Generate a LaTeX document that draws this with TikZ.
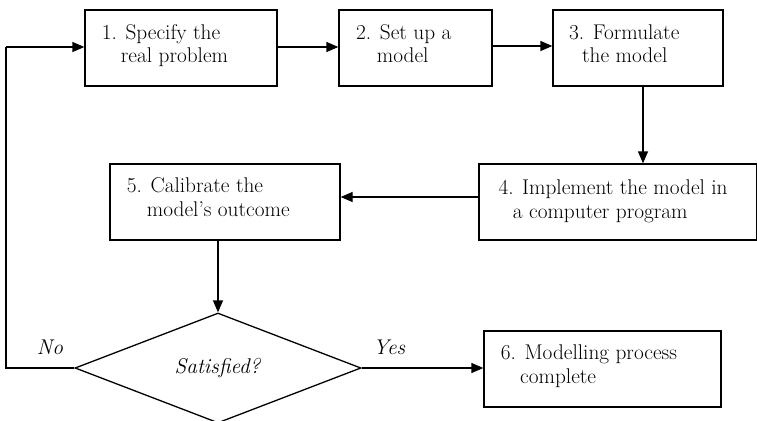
\documentclass[tikz,border=0pt]{standalone}
\usetikzlibrary{arrows.meta,shapes.geometric}
\begin{document}
\begin{tikzpicture}[x=1pt,y=-1pt,
  stepbox/.style={draw,line width=1.3pt,inner sep=0pt},
  txt/.style={anchor=base west,inner sep=0pt,font=\fontsize{21.3}{24}\selectfont},
  lab/.style={anchor=base west,inner sep=0pt,font=\fontsize{21.3}{24}\selectfont\itshape},
  flow/.style={line width=1.3pt,-{Triangle[length=12pt,width=10pt]}},
  edge/.style={line width=1.3pt}]
\useasboundingbox (0,0) rectangle (757,420);

% process boxes
\node[stepbox,minimum width=192pt,minimum height=76pt] (b1) at (181,48) {};
\node[stepbox,minimum width=153pt,minimum height=76pt] (b2) at (415.5,48) {};
\node[stepbox,minimum width=170pt,minimum height=76pt] (b3) at (638,48) {};
\node[stepbox,minimum width=277.5pt,minimum height=76pt] (b4) at (617.75,202) {};
\node[stepbox,minimum width=230pt,minimum height=76pt] (b5) at (225,202) {};
\node[stepbox,minimum width=237pt,minimum height=76pt] (b6) at (602.5,369) {};

% decision
\node[draw,line width=1.3pt,diamond,inner sep=0pt,aspect=2.6,
      minimum width=286pt,minimum height=110pt] (dia) at (218,368) {};

% box texts
\node[txt] (t1a) at (101.7,40) {1. Specify the};
\node[txt] (t1b) at (120.7,63) {real problem};
\node[txt] (t2a) at (356,40) {2. Set up a};
\node[txt] (t2b) at (376.7,63) {model};
\node[txt] (t3a) at (569,40) {3. Formulate};
\node[txt] (t3b) at (582,63) {the model};
\node[txt] (t4a) at (498.3,194) {4. Implement the model in};
\node[txt] (t4b) at (512.7,218) {a computer program};
\node[txt] (t5a) at (126.7,192) {5. Calibrate the};
\node[txt] (t5b) at (146.7,216) {model’s outcome};
\node[txt] (t6a) at (500.7,359) {6. Modelling process};
\node[txt] (t6b) at (520,383) {complete};

% labels
\node[lab,anchor=base] (ts) at (217.5,373) {Satisfied?};
\node[lab] (tno) at (36.7,354) {No};
\node[lab] (tyes) at (373,354) {Yes};

% connectors
\coordinate (loopA) at (6,368);
\coordinate (loopB) at (6,47);
\draw[flow] ([yshift=1pt]b1.east) -- ([yshift=1pt]b2.west);
\draw[flow] ([yshift=2pt]b2.east) -- ([yshift=2pt]b3.west);
\draw[flow] (b3.south -| 643,0) -- (b4.north -| 643,0);
\draw[flow] ([yshift=5pt]b4.west) -- ([yshift=5pt]b5.east);
\draw[flow] (b5.south -| dia.north) -- (dia.north);
\draw[flow] (dia.east) -- (dia.east -| b6.west);
\draw[edge] (dia.west) -- (loopA) -- (loopB);
\draw[flow] (loopB) -- (loopB -| b1.west);
\end{tikzpicture}
\end{document}
